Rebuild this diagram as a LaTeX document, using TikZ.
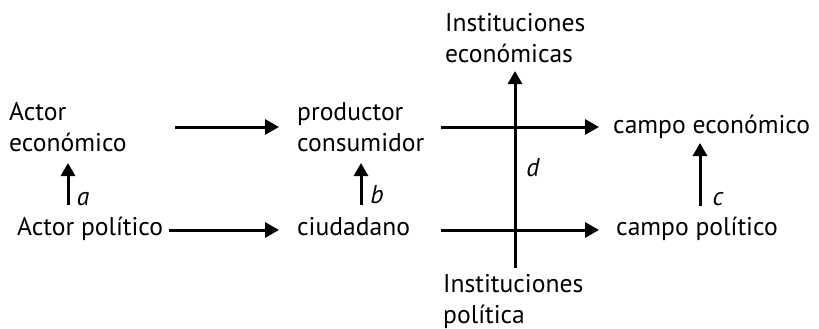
\documentclass[tikz,border=0pt]{standalone}
\usepackage{fontspec}
\setmainfont{PT Sans}
\usetikzlibrary{arrows.meta}
\begin{document}
\begin{tikzpicture}[x=1pt,y=-1pt,
  lbl/.style={anchor=base west,inner sep=0pt,align=left,font=\fontsize{25.6}{31}\selectfont},
  var/.style={anchor=center,inner sep=0pt,font=\fontsize{25.6}{31}\selectfont\itshape},
  conn/.style={line width=3pt,-{Triangle[length=14pt,width=15pt]}},
  vconn/.style={line width=3pt,-{Triangle[length=13pt,width=14pt]}}]
\useasboundingbox (0,0) rectangle (819,329);
% text nodes (base = baseline of last line)
\node[lbl] (ae) at (9,151) {Actor\\económico};
\node[lbl] (pc) at (297,151) {productor\\consumidor};
\node[lbl] (ce) at (613,133) {campo económico};
\node[lbl] (ap) at (17,235) {Actor político};
\node[lbl] (ci) at (297,235) {ciudadano};
\node[lbl] (cp) at (616,235) {campo político};
\node[lbl] (ie) at (445,63) {Instituciones\\económicas};
\node[lbl] (ip) at (443,323) {Instituciones\\política};
% arrow end points
\coordinate (t1s) at (175,127); \coordinate (t1e) at (279,127);
\coordinate (t2s) at (441,127); \coordinate (t2e) at (599,127);
\coordinate (b1s) at (169,230); \coordinate (b1e) at (279,230);
\coordinate (b2s) at (441,230); \coordinate (b2e) at (599,230);
\coordinate (as) at (68,205); \coordinate (ae2) at (68,163);
\coordinate (bs) at (361,205); \coordinate (be) at (361,163);
\coordinate (cs) at (700,206); \coordinate (ce2) at (700,143);
\coordinate (ds) at (515,268); \coordinate (de) at (515,71);
% connectors
\draw[conn] (t1s) -- (t1e);
\draw[conn] (t2s) -- (t2e);
\draw[conn] (b1s) -- (b1e);
\draw[conn] (b2s) -- (b2e);
\draw[vconn] (as) -- (ae2);
\draw[vconn] (bs) -- (be);
\draw[vconn] (cs) -- (ce2);
\draw[vconn] (ds) -- (de);
% labels
\node[var] (la) at (83,199) {a};
\node[var] (lb) at (377,195) {b};
\node[var] (lc) at (718,199) {c};
\node[var] (ld) at (533,168) {d};
\end{tikzpicture}
\end{document}
